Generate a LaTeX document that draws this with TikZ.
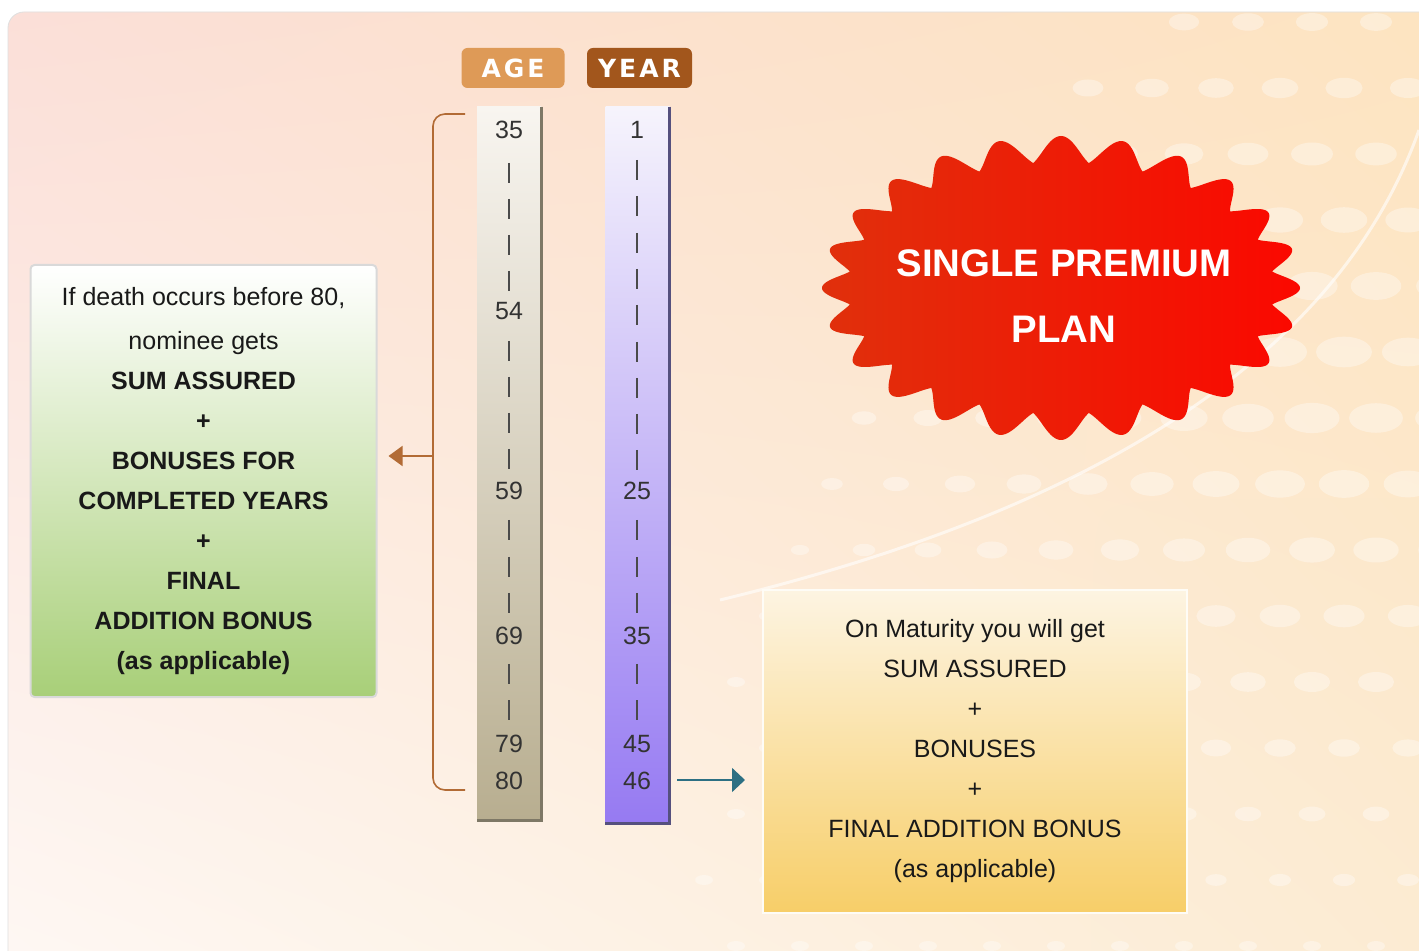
\documentclass[tikz,border=0pt]{standalone}
\usepackage{fontspec}
\setmainfont{Liberation Sans}
\newfontfamily\headfont[LetterSpace=12]{DejaVu Sans}
\usetikzlibrary{arrows.meta,positioning,shadings}

\definecolor{bgPink}{HTML}{FBDFD8}
\definecolor{bgPeach}{HTML}{FDE4C0}
\definecolor{bgCream}{HTML}{FEF8F4}
\definecolor{bgSand}{HTML}{FCEBD2}
\definecolor{ageTan}{HTML}{DE9A57}
\definecolor{yearBrown}{HTML}{A2561C}
\definecolor{ageTop}{HTML}{F8F5F0}
\definecolor{ageBot}{HTML}{B8AE90}
\definecolor{ageEdge}{HTML}{7E7866}
\definecolor{yearTop}{HTML}{F6F4FC}
\definecolor{yearBot}{HTML}{967AF2}
\definecolor{yearEdge}{HTML}{55507E}
\definecolor{brkBrown}{HTML}{B26B35}
\definecolor{arrTeal}{HTML}{2C6F83}
\definecolor{deathGreen}{HTML}{A8CF78}
\definecolor{matTop}{HTML}{FDF4E2}
\definecolor{matGold}{HTML}{F7CE68}
\definecolor{burstLeft}{HTML}{E0300C}
\definecolor{burstMid}{HTML}{D6420F}
\definecolor{burstRight}{HTML}{FB0800}
\definecolor{numGray}{HTML}{333333}
\definecolor{tickGray}{HTML}{4A4A4A}

\tikzset{
  hdbox/.style={rounded corners=3pt, minimum width=51.5pt, minimum height=20pt, inner sep=0pt,
    text=white, font=\headfont\bfseries\fontsize{12.5}{14}\selectfont},
  barbox/.style={minimum width=32pt, inner sep=0pt},
  barnum/.style={text=numGray, font=\fontsize{12.5}{14}\selectfont, inner sep=1pt},
  bartick/.style={tickGray, line width=1.3pt},
  infobox/.style={inner sep=0pt, align=center, text=black!90, font=\fontsize{12.5}{20}\selectfont},
  burstlabel/.style={text=white, align=center, font=\bfseries\fontsize{19.2}{33}\selectfont},
  brkline/.style={brkBrown, line width=.8pt},
}

\begin{document}
\begin{tikzpicture}[x=0.5pt, y=-0.5pt]

\useasboundingbox (0,0) rectangle (1419,951);
\fill[white] (0,0) rectangle (1419,951);
\shade[rounded corners=8pt, upper left=bgPink, upper right=bgPeach, lower left=bgCream, lower right=bgSand]
  (8,12) rectangle (1450,980);
\draw[gray!25, rounded corners=8pt] (1450,12) -- (8,12) -- (8,980);

\begin{scope}
\clip (1160,0) .. controls (950,200) and (720,420) .. (690,951) -- (1419,951) -- (1419,0) -- cycle;
\foreach \r in {0,...,14}{
\foreach \c in {0,...,11}{
\pgfmathsetmacro\dx{1440-\c*64-mod(\r,2)*32}
\pgfmathsetmacro\dy{22+\r*66}
\pgfmathsetmacro\rr{max(9,29-veclen(\dx-1330,\dy-380)/28)}
\fill[white, opacity=.35] (\dx,\dy) ellipse ({\rr} and {\rr*.55});
}}
\end{scope}
\draw[white, opacity=.6, line width=1.5pt] (720,600) .. controls (1050,520) and (1330,380) .. (1419,130);

\node[hdbox, fill=ageTan] (agehd) at (513,68) {AGE};
\node[hdbox, fill=yearBrown, minimum width=52.5pt] (yearhd) at (639.5,68) {YEAR};

\node[barbox, minimum height=356.5pt, top color=ageTop, bottom color=ageBot] (agebar) at (509,463.5) {};
\node[barbox, minimum height=358pt, top color=yearTop, bottom color=yearBot] (yearbar) at (637.5,465) {};
\draw[ageEdge, line width=1.5pt] (agebar.north east) -- (agebar.south east) -- (agebar.south west);
\draw[yearEdge, line width=1.5pt] (yearbar.north east) -- (yearbar.south east) -- (yearbar.south west);

\foreach \v/\y in {35/130,54/311,59/491,69/636,79/744,80/781}
  \node[barnum] (age\v) at (509,\y) {\v};
\foreach \v/\y in {1/130,25/491,35/636,45/744,46/781}
  \node[barnum] (year\v) at (637,\y) {\v};

\foreach \y in {173,209,245,281,351,387,423,459,530,567,603,674,710}
  \draw[bartick] (509,\y-10) -- (509,\y+10);
\foreach \y in {170,206,243,279,315,352,388,424,460,530,567,603,674,710}
  \draw[bartick] (637,\y-10) -- (637,\y+10);

\coordinate (brkTop) at (465,114);
\coordinate (brkBot) at (465,790);
\coordinate (brkMid) at (433,456);
\draw[brkline, rounded corners=6pt] (brkTop) -- (433,114) -- (433,790) -- (brkBot);

\node[infobox, minimum width=173pt, minimum height=216pt, top color=white, bottom color=deathGreen,
  draw=gray!30, line width=1pt, rounded corners=2pt] (death) at (203.5,481)
  {If death occurs before 80,\\[2pt] nominee gets\\ \textbf{SUM ASSURED}\\ \textbf{+}\\
   \textbf{BONUSES FOR}\\ \textbf{COMPLETED YEARS}\\ \textbf{+}\\ \textbf{FINAL}\\
   \textbf{ADDITION BONUS}\\ \textbf{(as applicable)}};

\node[infobox, minimum width=212pt, minimum height=161.5pt, top color=matTop, bottom color=matGold,
  draw=white!70!matTop, line width=1pt] (mature) at (975,751.5)
  {On Maturity you will get\\ SUM ASSURED\\ +\\ BONUSES\\ +\\ FINAL ADDITION BONUS\\ (as applicable)};

\draw[brkline, -{Triangle[length=7pt, width=10pt]}, shorten >=5.5pt] (brkMid) -- (death.east |- brkMid);

\coordinate (yearOut) at (677,780);
\draw[arrTeal, line width=.8pt, -{Triangle[length=6.5pt, width=12pt]}, shorten >=8.5pt] (yearOut) -- (mature.west |- yearOut);

\shade[left color=burstLeft, middle color=burstMid, right color=burstRight]
  plot[domain=0:360, samples=721] ({1061+(239-6.5*(1-cos(24*\x))-13*(1-abs(cos(12*\x))))*cos(\x)},
    {288+(152-6.5*(1-cos(24*\x))-13*(1-abs(cos(12*\x))))*sin(\x)}) -- cycle;
\node[burstlabel] (plan) at (1064,296) {SINGLE PREMIUM\\PLAN};

\end{tikzpicture}
\end{document}
